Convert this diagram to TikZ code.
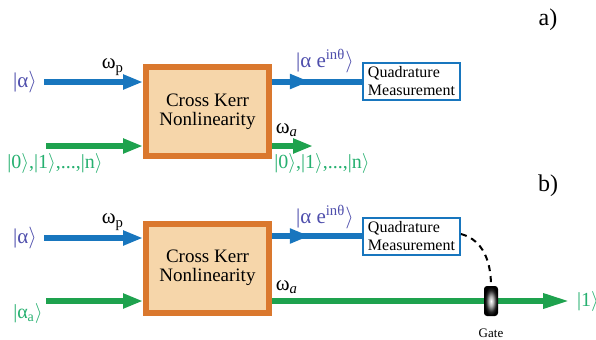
\documentclass[tikz,border=0pt]{standalone}
\usepackage{fontspec}
\setmainfont{Liberation Serif}
\usetikzlibrary{arrows.meta,decorations.markings}

\definecolor{beamblue}{RGB}{24,118,190}
\definecolor{beamgreen}{RGB}{30,162,78}
\definecolor{ketblue}{RGB}{78,78,172}
\definecolor{ketgreen}{RGB}{38,176,112}
\definecolor{kerrorange}{RGB}{218,120,46}
\definecolor{kerrfill}{RGB}{246,214,170}

\pgfdeclareradialshading{gateshade}{\pgfpoint{0bp}{0bp}}{color(0bp)=(white); color(8bp)=(white!70!black); color(18bp)=(black!85); color(24bp)=(black); color(50bp)=(black)}

\newcommand{\ketlab}[1]{|#1$\rangle$}

\begin{document}
\begin{tikzpicture}[x=0.5pt,y=-0.5pt,
  kerr/.style={draw=kerrorange,fill=kerrfill,line width=3pt,minimum width=61.5pt,minimum height=44.5pt,align=center,font=\fontsize{9.5}{9.5}\selectfont},
  quad/.style={draw=beamblue,fill=white,line width=1pt,minimum width=48.5pt,minimum height=18.5pt,align=left,inner xsep=2pt,inner ysep=1pt,font=\fontsize{8}{9}\selectfont},
  blueket/.style={text=ketblue,font=\fontsize{10.5}{12}\selectfont},
  greenket/.style={text=ketgreen,font=\fontsize{10}{12}\selectfont},
  freq/.style={font=\fontsize{10.5}{12}\selectfont},
  bluebeam/.style={beamblue,line width=3pt},
  greenbeam/.style={beamgreen,line width=3pt},
  tip/.style={-{Triangle[length=10pt,width=7pt]}},
  longtip/.style={-{Triangle[length=13.5pt,width=7pt]}},
  midtip/.style={postaction={decorate},decoration={markings,mark=at position #1 with {\arrow{Triangle[length=10pt,width=7pt]}}}},
  gatebox/.style={rounded corners=1.5pt,minimum width=7pt,minimum height=15pt,inner sep=0pt,shading=gateshade},
  panel/.style={font=\fontsize{12}{14}\selectfont}
]
\useasboundingbox (0,0) rectangle (596,339);

% a)
\node[panel] (labA) at (548,20) {a)};
\node[kerr] (kerrA) at (207.5,111.5) {Cross Kerr\\Nonlinearity};
\node[quad] (quadA) at (411.5,81.5) {Quadrature\\Measurement};
\node[blueket,anchor=east] (inA) at (44,82) {\ketlab{α}};
\coordinate (srcA) at (46,146);
\coordinate (outA) at (313,146);
\node[freq] (wpA) at (113,67) {ω\textsubscript{p}};
\node[freq] (waA) at (287,130) {ω\textsubscript{\textit{a}}};
\node[blueket] (phA) at (325,61) {|α e\textsuperscript{inθ}$\rangle$};
\node[greenket] (fockinA) at (55,163) {\ketlab{0},\ketlab{1},...,\ketlab{n}};
\node[greenket] (fockoutA) at (322,163) {\ketlab{0},\ketlab{1},...,\ketlab{n}};

\draw[bluebeam,tip] (inA.east) -- (kerrA.west |- inA.east);
\draw[greenbeam,tip] (srcA) -- (kerrA.west |- srcA);
\draw[bluebeam,midtip=0.42] (kerrA.east |- quadA.west) -- (quadA.west);
\draw[greenbeam,tip] (kerrA.east |- outA) -- (outA);

% b)
\node[panel] (labB) at (548,186) {b)};
\node[kerr] (kerrB) at (207.5,268) {Cross Kerr\\Nonlinearity};
\node[quad] (quadB) at (411.5,236) {Quadrature\\Measurement};
\node[blueket,anchor=east] (inB) at (44,238) {\ketlab{α}};
\coordinate (srcB) at (46,301);
\coordinate (outB) at (570,301);
\node[freq] (wpB) at (113,222) {ω\textsubscript{p}};
\node[freq] (waB) at (287,287) {ω\textsubscript{\textit{a}}};
\node[blueket] (phB) at (325,217) {|α e\textsuperscript{inθ}$\rangle$};
\node[greenket] (ancB) at (28,313) {\ketlab{α\textsubscript{a}}};
\node[greenket,anchor=west] (oneB) at (outB) {\ketlab{1}};

\draw[bluebeam,tip] (inB.east) -- (kerrB.west |- inB.east);
\draw[greenbeam,tip] (srcB) -- (kerrB.west |- srcB);
\draw[bluebeam,midtip=0.42] (kerrB.east |- quadB.west) -- (quadB.west);
\draw[greenbeam,longtip] (kerrB.east |- outB) -- (outB);

\node[gatebox] (gate) at (491,301) {};
\node[font=\fontsize{6.5}{8}\selectfont] (gatelab) at (491,333) {Gate};
\draw[dashed,line width=1pt,dash pattern=on 3pt off 2.5pt] ([yshift=1pt]quadB.east) to[out=-15,in=90] (gate.north);
\end{tikzpicture}
\end{document}
